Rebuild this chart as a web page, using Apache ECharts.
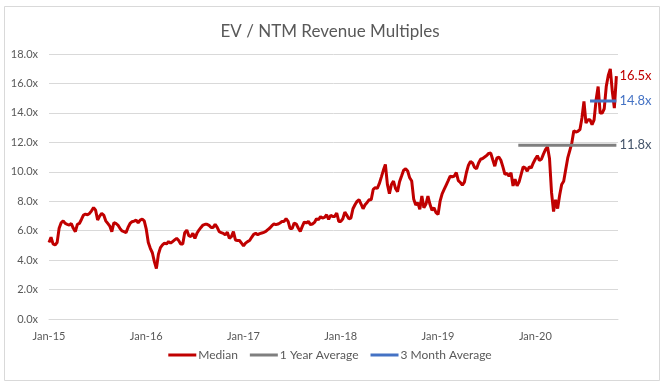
<!DOCTYPE html>
<html>
<head>
<meta charset="utf-8">
<script src="https://cdn.jsdelivr.net/npm/echarts@6/dist/echarts.min.js"></script>
<style>
  html, body { margin: 0; padding: 0; background: #ffffff; }
  #chart { width: 660px; height: 381px; }
</style>
</head>
<body>
<div id="chart"></div>
<script>
// Median EV / NTM revenue multiple, sampled every quarter month starting Jan-2015
const median = [
  5.2, 5.55, 5.1, 5.03, 5.19, 6.16, 6.54, 6.67, 6.49, 6.43,
  6.38, 6.49, 6.16, 5.93, 6.43, 6.49, 6.76, 7.06, 7.12, 7.08,
  7.17, 7.35, 7.57, 7.39, 6.72, 6.99, 7.17, 7.06, 6.67, 6.49,
  6.31, 5.93, 6.54, 6.49, 6.38, 6.16, 5.98, 5.93, 5.87, 6.22,
  6.49, 6.61, 6.65, 6.72, 6.54, 6.72, 6.79, 6.67, 6.1, 5.2,
  4.8, 4.5, 3.9, 3.42, 4.4, 4.85, 5.03, 5.15, 5.1, 5.26,
  5.15, 5.26, 5.37, 5.48, 5.33, 5.1, 5.1, 5.87, 6.04, 5.66,
  5.6, 5.82, 5.48, 5.82, 6.04, 6.22, 6.38, 6.43, 6.43, 6.36,
  6.22, 6.22, 6.43, 6.22, 5.93, 5.87, 5.82, 5.71, 5.89, 5.48,
  5.6, 5.93, 5.37, 5.33, 5.33, 5.15, 4.97, 5.15, 5.26, 5.33,
  5.55, 5.75, 5.82, 5.73, 5.8, 5.84, 5.89, 5.95, 6.07, 6.18,
  6.34, 6.45, 6.41, 6.45, 6.52, 6.63, 6.63, 6.81, 6.63, 6.14,
  6.14, 6.52, 6.45, 6.18, 5.95, 6.29, 6.59, 6.52, 6.63, 6.41,
  6.45, 6.56, 6.81, 6.74, 6.95, 6.86, 6.9, 7.08, 6.77, 7.04,
  6.97, 6.97, 7.2, 6.63, 6.63, 6.81, 7.26, 7.04, 6.81, 6.86,
  7.49, 7.76, 7.99, 8.1, 7.81, 7.49, 7.76, 7.92, 8.1, 8.1,
  8.8, 8.92, 8.87, 9.19, 9.64, 10.1, 10.5, 9.14, 8.51, 9.14,
  9.37, 8.87, 8.65, 9.32, 9.71, 10.11, 10.2, 10.05, 9.59, 9.37,
  8.13, 7.74, 7.9, 7.45, 8.35, 7.56, 7.79, 8.35, 7.79, 7.38,
  7.56, 7.22, 7.1, 8.0, 8.5, 8.8, 9.1, 9.4, 9.71, 9.65,
  9.71, 9.95, 9.4, 9.27, 9.1, 9.3, 9.95, 10.45, 10.7, 10.6,
  10.3, 10.2, 10.6, 10.85, 10.9, 11.0, 11.1, 11.25, 11.27, 10.82,
  10.38, 10.93, 11.0, 10.78, 10.33, 9.82, 9.89, 9.71, 9.93, 9.04,
  9.49, 9.04, 9.31, 9.82, 10.33, 10.27, 10.04, 10.33, 10.27, 10.6,
  10.87, 11.09, 10.78, 10.85, 11.2, 11.5, 11.7, 10.9, 8.6, 7.3,
  8.1, 7.5, 8.4, 9.13, 9.36, 10.15, 10.94, 11.44, 11.95, 12.79,
  12.7, 12.75, 12.86, 13.65, 14.78, 13.31, 13.53, 13.53, 13.2, 13.53,
  14.89, 15.79, 13.99, 13.99, 14.28, 15.79, 16.54, 16.99, 15.45, 14.32,
  16.5
];
const stepMonths = 0.25;                 // sampling step, in months
const months = median.map((_, i) => i * stepMonths);   // months since Jan-2015

const oneYearAvg = 11.8;
const oneYearSpan = [57.9, 70];          // months since Jan-2015
const threeMonthAvg = 14.8;
const threeMonthSpan = [66.75, 70];

const yearLabels = ['Jan-15', 'Jan-16', 'Jan-17', 'Jan-18', 'Jan-19', 'Jan-20'];
const yTicks = [0, 2, 4, 6, 8, 10, 12, 14, 16, 18];

const FONT = 'Lato, "Open Sans", sans-serif';
const medianData = months.map((m, i) => [m, median[i]]);
const oneYearData = oneYearSpan.map(m => [m, oneYearAvg]);
const threeMonthData = threeMonthSpan.map(m => [m, threeMonthAvg]);

const chart = echarts.init(document.getElementById('chart'), null, { renderer: 'canvas' });
chart.setOption({
  animation: false,
  backgroundColor: '#ffffff',
  textStyle: { fontFamily: FONT },
  graphic: [{
    type: 'rect', left: 2, top: 4, silent: true, z: -1,
    shape: { width: 655, height: 374 },
    style: { fill: 'none', stroke: '#D9D9D9', lineWidth: 1 }
  }],
  title: {
    text: 'EV / NTM Revenue Multiples',
    left: 'center', top: 18,
    textStyle: { fontFamily: FONT, fontSize: 17, fontWeight: 'normal', color: '#595959' }
  },
  grid: { left: 49, right: 42, top: 54, bottom: 62 },
  legend: {
    bottom: 15, left: 'center',
    icon: 'rect', itemWidth: 28, itemHeight: 3, itemGap: 12,
    textStyle: { fontFamily: FONT, fontSize: 12, color: '#595959', padding: [0, 0, 0, -3] },
    data: ['Median', '1 Year Average', '3 Month Average']
  },
  xAxis: {
    type: 'value', min: 0, max: 70.2, interval: 12,
    axisLine: { show: true, lineStyle: { color: '#D9D9D9', width: 1 } },
    axisTick: { show: false },
    splitLine: { show: false },
    axisLabel: {
      margin: 12, fontFamily: FONT, fontSize: 11, color: '#595959',
      showMaxLabel: false,
      formatter: v => (v % 12 === 0 && yearLabels[v / 12]) ? yearLabels[v / 12] : ''
    }
  },
  yAxis: {
    type: 'value', min: yTicks[0], max: yTicks[yTicks.length - 1], interval: 2,
    axisLine: { show: false }, axisTick: { show: false },
    splitLine: { lineStyle: { color: '#D9D9D9', width: 1 } },
    axisLabel: { margin: 11, fontFamily: FONT, fontSize: 11, color: '#595959',
      formatter: v => v.toFixed(1) + 'x' }
  },
  series: [
    {
      name: 'Median', type: 'line', data: medianData, showSymbol: false, symbol: 'none',
      lineStyle: { color: '#C00000', width: 3 }, itemStyle: { color: '#C00000' },
      z: 3,
      endLabel: { show: true, distance: 3, color: '#C00000', fontFamily: FONT, fontSize: 13,
        formatter: p => p.value[1].toFixed(1) + 'x' }
    },
    {
      name: '1 Year Average', type: 'line', data: oneYearData, showSymbol: false, symbol: 'none',
      lineStyle: { color: '#7F7F7F', width: 3 }, itemStyle: { color: '#7F7F7F' },
      z: 4,
      endLabel: { show: true, distance: 3, color: '#44546A', fontFamily: FONT, fontSize: 13,
        formatter: p => p.value[1].toFixed(1) + 'x' }
    },
    {
      name: '3 Month Average', type: 'line', data: threeMonthData, showSymbol: false, symbol: 'none',
      lineStyle: { color: '#4472C4', width: 3 }, itemStyle: { color: '#4472C4' },
      z: 5,
      endLabel: { show: true, distance: 3, color: '#4472C4', fontFamily: FONT, fontSize: 13,
        formatter: p => p.value[1].toFixed(1) + 'x' }
    }
  ]
});
</script>
</body>
</html>
